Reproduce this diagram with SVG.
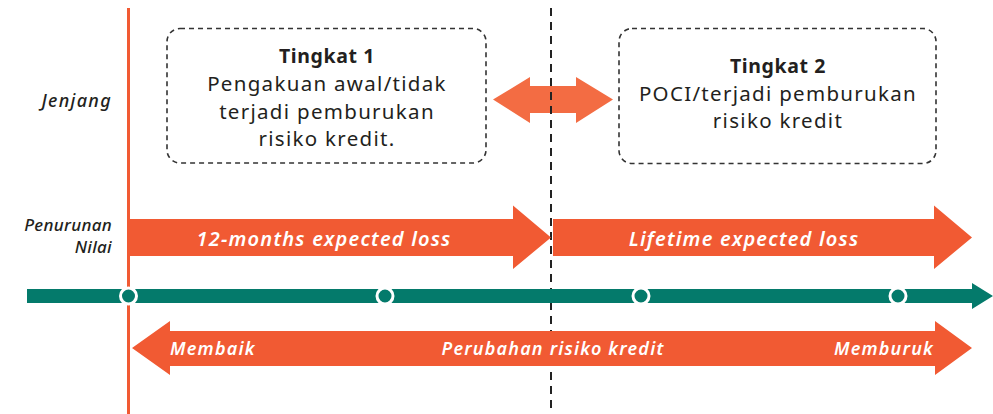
<svg xmlns="http://www.w3.org/2000/svg" width="993" height="414" viewBox="0 0 993 414">
  <defs>
    <style>
      .box { fill: #ffffff; stroke: #333333; stroke-width: 1.6; stroke-dasharray: 5 4; }
      .boxtxt { font-family: "Noto Sans", "Open Sans", sans-serif; font-size: 20.5px; fill: #231f20; text-anchor: middle; letter-spacing: 1.3px; }
      .boxhead { font-weight: bold; font-size: 19.5px; letter-spacing: 0.6px; }
      .side { font-family: "Noto Sans", "Open Sans", sans-serif; font-size: 17px; font-style: italic; font-weight: 500; fill: #231f20; text-anchor: end; letter-spacing: 0.3px; }
      .band { fill: #f15a33; }
      .bandtxt { font-family: "Noto Sans", "Open Sans", sans-serif; font-style: italic; font-weight: 600; fill: #ffffff; letter-spacing: 1.2px; }
      .dot { fill: #047a6b; stroke: #ffffff; stroke-width: 3; }
    </style>
  </defs>

  <!-- row labels -->
  <g id="labels">
    <text class="side" x="112" y="107" style="font-size:18px;letter-spacing:1.3px">Jenjang</text>
    <text class="side" x="112" y="231">Penurunan</text>
    <text class="side" x="112" y="253">Nilai</text>
  </g>

  <!-- stage boxes -->
  <g id="stage-1">
    <rect class="box" x="167" y="28.5" width="319" height="134.5" rx="13"/>
    <text class="boxtxt boxhead" x="327" y="63">Tingkat 1</text>
    <text class="boxtxt" x="327" y="91">Pengakuan awal/tidak</text>
    <text class="boxtxt" x="327" y="118.5">terjadi pemburukan</text>
    <text class="boxtxt" x="327" y="146">risiko kredit.</text>
  </g>
  <g id="stage-2">
    <rect class="box" x="619" y="28.5" width="317" height="135" rx="13"/>
    <text class="boxtxt boxhead" x="778" y="73">Tingkat 2</text>
    <text class="boxtxt" x="778" y="101">POCI/terjadi pemburukan</text>
    <text class="boxtxt" x="778" y="128">risiko kredit</text>
  </g>

  <g id="connectors">
    <!-- two-way arrow between stages -->
    <polygon fill="#f36c43" points="493,99.5 530,77 530,86 576,86 576,77 613,99.5 576,123 576,113 530,113 530,123"/>

    <!-- stage boundary -->
    <line x1="551" y1="8" x2="551" y2="414" stroke="#222222" stroke-width="2" stroke-dasharray="8 6"/>

    <!-- impairment bands -->
    <polygon class="band" points="130,219 513,219 513,205.5 551,237.5 513,269 513,256 130,256"/>
    <text class="bandtxt" x="324" y="246" font-size="20" text-anchor="middle">12-months expected loss</text>
    <polygon class="band" points="553,219 934,219 934,205.5 972,237.5 934,269 934,256 553,256"/>
    <text class="bandtxt" x="744" y="246" font-size="20" text-anchor="middle">Lifetime expected loss</text>

    <!-- timeline -->
    <polygon fill="#047a6b" points="27,289 972,289 972,283 993,296 972,309 972,303 27,303"/>

    <!-- origin line -->
    <line x1="128.5" y1="8" x2="128.5" y2="414" stroke="#f15a33" stroke-width="3"/>

    <circle class="dot" cx="128.5" cy="296" r="8"/>
    <circle class="dot" cx="385" cy="296" r="8"/>
    <circle class="dot" cx="641" cy="296" r="8"/>
    <circle class="dot" cx="898" cy="296" r="8"/>

    <!-- credit risk change band -->
    <polygon class="band" points="132,348 170,321 170,331 935,331 935,321 972,348 935,375 935,366 170,366 170,375"/>
    <text class="bandtxt" x="170" y="355" font-size="18">Membaik</text>
    <text class="bandtxt" x="553" y="355" font-size="18" text-anchor="middle">Perubahan risiko kredit</text>
    <text class="bandtxt" x="934" y="355" font-size="18" text-anchor="end">Memburuk</text>
  </g>
</svg>
